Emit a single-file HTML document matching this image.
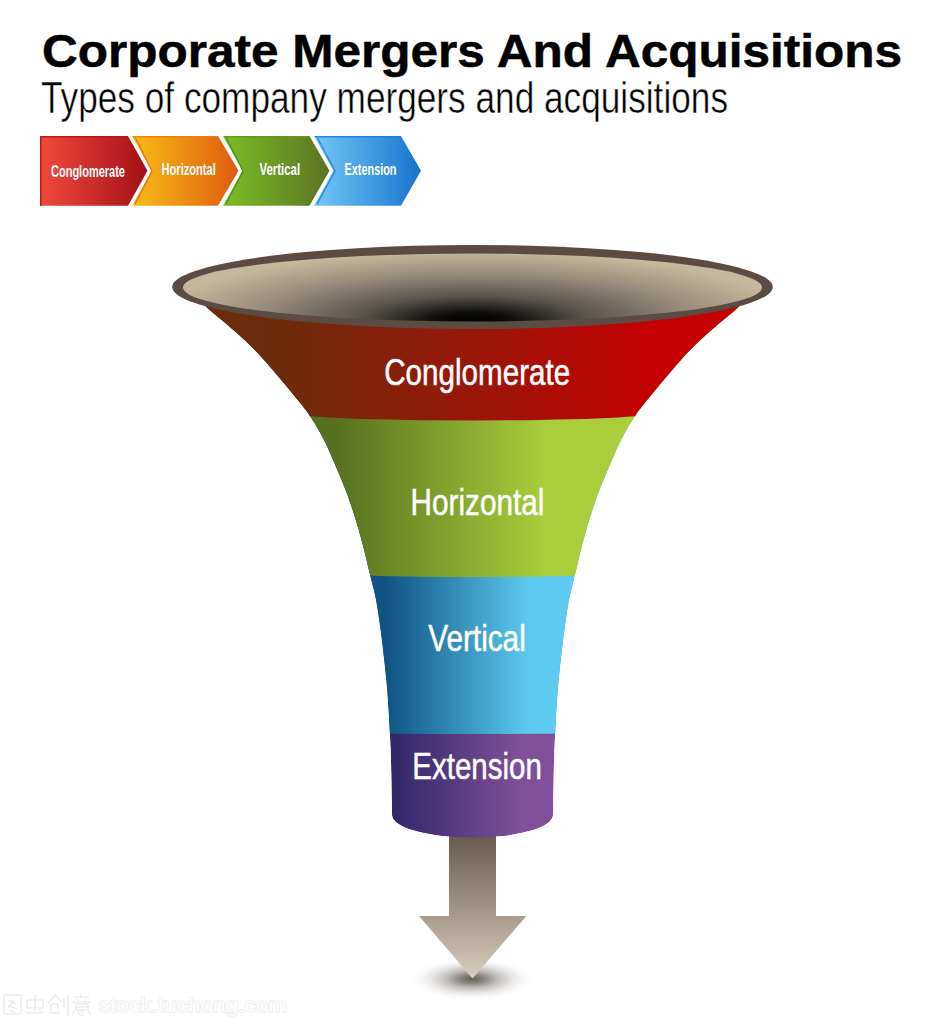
<!DOCTYPE html>
<html><head><meta charset="utf-8"><style>
html,body{margin:0;padding:0;background:#fff;width:945px;height:1023px;overflow:hidden}
svg{display:block}
text{font-family:"Liberation Sans",sans-serif}
</style></head><body>
<svg width="945" height="1023" viewBox="0 0 945 1023">
<defs>
<linearGradient id="cr" x1="0" y1="0" x2="1" y2="0"><stop offset="0" stop-color="#f24a3c"/><stop offset="1" stop-color="#a30f17"/></linearGradient>
<linearGradient id="co" x1="0" y1="0" x2="1" y2="0"><stop offset="0" stop-color="#f9bd18"/><stop offset="1" stop-color="#df5a0e"/></linearGradient>
<linearGradient id="cg" x1="0" y1="0" x2="1" y2="0"><stop offset="0" stop-color="#7cbd26"/><stop offset="1" stop-color="#5b7424"/></linearGradient>
<linearGradient id="cb" x1="0" y1="0" x2="1" y2="0"><stop offset="0" stop-color="#74c8f6"/><stop offset="1" stop-color="#1673cc"/></linearGradient>
<linearGradient id="fr" gradientUnits="userSpaceOnUse" x1="270" y1="0" x2="650" y2="0"><stop offset="0" stop-color="#6a2c0a"/><stop offset="0.5" stop-color="#961808"/><stop offset="1" stop-color="#c40003"/></linearGradient>
<linearGradient id="fg" gradientUnits="userSpaceOnUse" x1="335" y1="0" x2="545" y2="0"><stop offset="0" stop-color="#56701f"/><stop offset="1" stop-color="#a9cd3b"/></linearGradient>
<linearGradient id="fb" gradientUnits="userSpaceOnUse" x1="385" y1="0" x2="530" y2="0"><stop offset="0" stop-color="#0f5283"/><stop offset="1" stop-color="#5ccbef"/></linearGradient>
<linearGradient id="fp" gradientUnits="userSpaceOnUse" x1="395" y1="0" x2="522" y2="0"><stop offset="0" stop-color="#33286a"/><stop offset="1" stop-color="#80509a"/></linearGradient>
<radialGradient id="inner" gradientUnits="userSpaceOnUse" cx="473" cy="321" r="100" gradientTransform="translate(473 321) scale(3.2 0.7) translate(-473 -321)"><stop offset="0" stop-color="#000"/><stop offset="0.12" stop-color="#0e0d0c"/><stop offset="0.36" stop-color="#5a544c"/><stop offset="0.68" stop-color="#978c7a"/><stop offset="1" stop-color="#c6b89c"/></radialGradient>
<linearGradient id="arr" gradientUnits="userSpaceOnUse" x1="0" y1="837" x2="0" y2="978"><stop offset="0" stop-color="#6a5b4e"/><stop offset="1" stop-color="#d8cebd"/></linearGradient>
<radialGradient id="shadow"><stop offset="0" stop-color="#2a2018" stop-opacity="0.72"/><stop offset="0.2" stop-color="#2a2018" stop-opacity="0.55"/><stop offset="0.42" stop-color="#2a2018" stop-opacity="0.3"/><stop offset="0.65" stop-color="#2a2018" stop-opacity="0.12"/><stop offset="0.85" stop-color="#2a2018" stop-opacity="0.03"/><stop offset="1" stop-color="#2a2018" stop-opacity="0"/></radialGradient>
<clipPath id="sil"><path d="M195.5,295.0 L198.2,298.0 L200.8,301.0 L203.6,304.0 L206.5,307.0 L209.7,310.0 L213.2,313.0 L216.8,316.0 L220.5,319.0 L224.2,322.0 L227.7,325.0 L231.1,328.0 L234.6,331.0 L238.0,334.0 L241.3,337.0 L244.6,340.0 L247.7,343.0 L250.8,346.0 L253.8,349.0 L256.7,352.0 L259.6,355.0 L262.3,358.0 L265.0,361.0 L267.6,364.0 L270.2,367.0 L272.8,370.0 L275.3,373.0 L277.9,376.0 L280.4,379.0 L282.9,382.0 L285.5,385.0 L288.0,388.0 L290.4,391.0 L292.9,394.0 L295.3,397.0 L297.8,400.0 L300.3,403.0 L302.7,406.0 L305.0,409.0 L307.3,412.0 L309.3,415.0 L311.3,418.0 L313.2,421.0 L315.1,424.0 L316.9,427.0 L318.6,430.0 L320.3,433.0 L321.9,436.0 L323.5,439.0 L325.0,442.0 L326.5,445.0 L327.9,448.0 L329.2,451.0 L330.5,454.0 L331.8,457.0 L333.1,460.0 L334.4,463.0 L335.7,466.0 L336.9,469.0 L338.2,472.0 L339.5,475.0 L340.7,478.0 L342.0,481.0 L343.2,484.0 L344.4,487.0 L345.6,490.0 L346.8,493.0 L347.9,496.0 L348.9,499.0 L350.0,502.0 L351.0,505.0 L352.0,508.0 L353.0,511.0 L353.9,514.0 L354.9,517.0 L355.8,520.0 L356.7,523.0 L357.6,526.0 L358.5,529.0 L359.3,532.0 L360.2,535.0 L361.0,538.0 L361.8,541.0 L362.6,544.0 L363.4,547.0 L364.1,550.0 L364.9,553.0 L365.6,556.0 L366.3,559.0 L367.0,562.0 L367.7,565.0 L368.4,568.0 L369.2,571.0 L369.9,574.0 L370.6,577.0 L371.3,580.0 L372.1,583.0 L372.8,586.0 L373.6,589.0 L374.3,592.0 L375.0,595.0 L375.6,598.0 L376.2,601.0 L376.7,604.0 L377.2,607.0 L377.7,610.0 L378.2,613.0 L378.6,616.0 L379.1,619.0 L379.5,622.0 L379.9,625.0 L380.3,628.0 L380.7,631.0 L381.1,634.0 L381.5,637.0 L381.9,640.0 L382.2,643.0 L382.6,646.0 L382.9,649.0 L383.3,652.0 L383.6,655.0 L384.0,658.0 L384.3,661.0 L384.7,664.0 L385.0,667.0 L385.3,670.0 L385.6,673.0 L385.9,676.0 L386.2,679.0 L386.5,682.0 L386.8,685.0 L387.0,688.0 L387.3,691.0 L387.5,694.0 L387.7,697.0 L387.9,700.0 L388.1,703.0 L388.3,706.0 L388.5,709.0 L388.7,712.0 L388.9,715.0 L389.0,718.0 L389.2,721.0 L389.4,724.0 L389.5,727.0 L389.7,730.0 L389.8,733.0 L389.9,736.0 L390.1,739.0 L390.2,742.0 L390.3,745.0 L390.5,748.0 L390.6,751.0 L390.7,754.0 L390.8,757.0 L390.9,760.0 L391.0,763.0 L391.1,766.0 L391.1,769.0 L391.2,772.0 L391.3,775.0 L391.3,778.0 L391.4,781.0 L391.4,784.0 L391.5,787.0 L391.5,790.0 L391.6,793.0 L391.6,796.0 L391.7,799.0 L391.8,802.0 L391.8,805.0 L391.9,808.0 L391.9,811.0 L392.0,815.0 A80.5,22.8 0 0 0 553.0,815 L553.1,811.0 L553.1,808.0 L553.2,805.0 L553.2,802.0 L553.3,799.0 L553.4,796.0 L553.4,793.0 L553.5,790.0 L553.5,787.0 L553.6,784.0 L553.6,781.0 L553.7,778.0 L553.7,775.0 L553.8,772.0 L553.9,769.0 L553.9,766.0 L554.0,763.0 L554.1,760.0 L554.2,757.0 L554.3,754.0 L554.4,751.0 L554.5,748.0 L554.7,745.0 L554.8,742.0 L554.9,739.0 L555.1,736.0 L555.2,733.0 L555.3,730.0 L555.5,727.0 L555.6,724.0 L555.8,721.0 L556.0,718.0 L556.1,715.0 L556.3,712.0 L556.5,709.0 L556.7,706.0 L556.9,703.0 L557.1,700.0 L557.3,697.0 L557.5,694.0 L557.7,691.0 L558.0,688.0 L558.2,685.0 L558.5,682.0 L558.8,679.0 L559.1,676.0 L559.4,673.0 L559.7,670.0 L560.0,667.0 L560.3,664.0 L560.7,661.0 L561.0,658.0 L561.4,655.0 L561.7,652.0 L562.1,649.0 L562.4,646.0 L562.8,643.0 L563.1,640.0 L563.5,637.0 L563.9,634.0 L564.3,631.0 L564.7,628.0 L565.1,625.0 L565.5,622.0 L565.9,619.0 L566.4,616.0 L566.8,613.0 L567.3,610.0 L567.8,607.0 L568.3,604.0 L568.8,601.0 L569.4,598.0 L570.0,595.0 L570.7,592.0 L571.4,589.0 L572.2,586.0 L572.9,583.0 L573.7,580.0 L574.4,577.0 L575.1,574.0 L575.8,571.0 L576.6,568.0 L577.3,565.0 L578.0,562.0 L578.7,559.0 L579.4,556.0 L580.1,553.0 L580.9,550.0 L581.6,547.0 L582.4,544.0 L583.2,541.0 L584.0,538.0 L584.8,535.0 L585.7,532.0 L586.5,529.0 L587.4,526.0 L588.3,523.0 L589.2,520.0 L590.1,517.0 L591.1,514.0 L592.0,511.0 L593.0,508.0 L594.0,505.0 L595.0,502.0 L596.1,499.0 L597.1,496.0 L598.2,493.0 L599.4,490.0 L600.6,487.0 L601.8,484.0 L603.0,481.0 L604.3,478.0 L605.5,475.0 L606.8,472.0 L608.1,469.0 L609.3,466.0 L610.6,463.0 L611.9,460.0 L613.2,457.0 L614.5,454.0 L615.8,451.0 L617.1,448.0 L618.5,445.0 L620.0,442.0 L621.5,439.0 L623.1,436.0 L624.7,433.0 L626.4,430.0 L628.1,427.0 L629.9,424.0 L631.8,421.0 L633.7,418.0 L635.7,415.0 L637.7,412.0 L640.0,409.0 L642.3,406.0 L644.7,403.0 L647.2,400.0 L649.7,397.0 L652.1,394.0 L654.6,391.0 L657.0,388.0 L659.5,385.0 L662.1,382.0 L664.6,379.0 L667.1,376.0 L669.7,373.0 L672.2,370.0 L674.8,367.0 L677.4,364.0 L680.0,361.0 L682.7,358.0 L685.4,355.0 L688.3,352.0 L691.2,349.0 L694.2,346.0 L697.3,343.0 L700.4,340.0 L703.7,337.0 L707.0,334.0 L710.4,331.0 L713.9,328.0 L717.3,325.0 L720.8,322.0 L724.5,319.0 L728.2,316.0 L731.8,313.0 L735.3,310.0 L738.5,307.0 L741.4,304.0 L744.2,301.0 L746.8,298.0 L749.5,295.0 Z"/></clipPath>
</defs>
<text x="42" y="67" font-size="46" font-weight="bold" textLength="860" lengthAdjust="spacingAndGlyphs" fill="#000" stroke="#000" stroke-width="0.5">Corporate Mergers And Acquisitions</text>
<text x="41" y="112.5" font-size="44.5" textLength="687" lengthAdjust="spacingAndGlyphs" fill="#000" stroke="#fff" stroke-width="0.5">Types of company mergers and acquisitions</text>
<path d="M40,136 L128,136 L147.5,170.85 L128,205.7 L40,205.7 Z" fill="url(#cr)"/>
<path d="M132,136 L218,136 L238.5,170.85 L218,205.7 L132,205.7 L151.5,170.85 Z" fill="url(#co)"/>
<path d="M223,136 L309.5,136 L329.5,170.85 L309.5,205.7 L223,205.7 L242.5,170.85 Z" fill="url(#cg)"/>
<path d="M314,136 L401,136 L421,170.85 L401,205.7 L314,205.7 L333.5,170.85 Z" fill="url(#cb)"/>
<g fill="none" stroke-width="1.6" stroke-opacity="0.9">
<path d="M40.8,205.7 V136.8 H128" stroke="#b8141a"/>
<path d="M133,136.8 H218" stroke="#e8800c"/>
<path d="M135.5,138 L152,171 L135,204" stroke="#e06a0c" stroke-width="1.3"/>
<path d="M224,136.8 H309.5" stroke="#5e9a18"/>
<path d="M226.5,138 L243,171 L226,204" stroke="#4e8a14" stroke-width="1.3"/>
<path d="M315,136.8 H401" stroke="#1f7ed4"/>
<path d="M317.5,138 L335,171 L317,204" stroke="#1f84dc" stroke-width="1.5"/>
</g>
<g fill="#fff" font-size="16" font-weight="bold">
<text x="51" y="177" textLength="74" lengthAdjust="spacingAndGlyphs">Conglomerate</text>
<text x="161.5" y="174.6" textLength="54.3" lengthAdjust="spacingAndGlyphs">Horizontal</text>
<text x="259.5" y="174.6" textLength="40.6" lengthAdjust="spacingAndGlyphs">Vertical</text>
<text x="344.5" y="174.6" textLength="52" lengthAdjust="spacingAndGlyphs">Extension</text>
</g>
<ellipse cx="472" cy="979" rx="60" ry="21" fill="url(#shadow)"/>
<rect x="449" y="825" width="47" height="92" fill="url(#arr)"/>
<path d="M419,916 L526.4,916 L472.5,978.5 Z" fill="url(#arr)"/>
<g clip-path="url(#sil)">
<path d="M195.5,295.0 L198.2,298.0 L200.8,301.0 L203.6,304.0 L206.5,307.0 L209.7,310.0 L213.2,313.0 L216.8,316.0 L220.5,319.0 L224.2,322.0 L227.7,325.0 L231.1,328.0 L234.6,331.0 L238.0,334.0 L241.3,337.0 L244.6,340.0 L247.7,343.0 L250.8,346.0 L253.8,349.0 L256.7,352.0 L259.6,355.0 L262.3,358.0 L265.0,361.0 L267.6,364.0 L270.2,367.0 L272.8,370.0 L275.3,373.0 L277.9,376.0 L280.4,379.0 L282.9,382.0 L285.5,385.0 L288.0,388.0 L290.4,391.0 L292.9,394.0 L295.3,397.0 L297.8,400.0 L300.3,403.0 L302.7,406.0 L305.0,409.0 L307.3,412.0 L309.3,415.0 L311.3,418.0 L313.2,421.0 L315.1,424.0 L316.9,427.0 L318.6,430.0 L320.3,433.0 L321.9,436.0 L323.5,439.0 L325.0,442.0 L326.5,445.0 L327.9,448.0 L329.2,451.0 L330.5,454.0 L331.8,457.0 L333.1,460.0 L334.4,463.0 L335.7,466.0 L336.9,469.0 L338.2,472.0 L339.5,475.0 L340.7,478.0 L342.0,481.0 L343.2,484.0 L344.4,487.0 L345.6,490.0 L346.8,493.0 L347.9,496.0 L348.9,499.0 L350.0,502.0 L351.0,505.0 L352.0,508.0 L353.0,511.0 L353.9,514.0 L354.9,517.0 L355.8,520.0 L356.7,523.0 L357.6,526.0 L358.5,529.0 L359.3,532.0 L360.2,535.0 L361.0,538.0 L361.8,541.0 L362.6,544.0 L363.4,547.0 L364.1,550.0 L364.9,553.0 L365.6,556.0 L366.3,559.0 L367.0,562.0 L367.7,565.0 L368.4,568.0 L369.2,571.0 L369.9,574.0 L370.6,577.0 L371.3,580.0 L372.1,583.0 L372.8,586.0 L373.6,589.0 L374.3,592.0 L375.0,595.0 L375.6,598.0 L376.2,601.0 L376.7,604.0 L377.2,607.0 L377.7,610.0 L378.2,613.0 L378.6,616.0 L379.1,619.0 L379.5,622.0 L379.9,625.0 L380.3,628.0 L380.7,631.0 L381.1,634.0 L381.5,637.0 L381.9,640.0 L382.2,643.0 L382.6,646.0 L382.9,649.0 L383.3,652.0 L383.6,655.0 L384.0,658.0 L384.3,661.0 L384.7,664.0 L385.0,667.0 L385.3,670.0 L385.6,673.0 L385.9,676.0 L386.2,679.0 L386.5,682.0 L386.8,685.0 L387.0,688.0 L387.3,691.0 L387.5,694.0 L387.7,697.0 L387.9,700.0 L388.1,703.0 L388.3,706.0 L388.5,709.0 L388.7,712.0 L388.9,715.0 L389.0,718.0 L389.2,721.0 L389.4,724.0 L389.5,727.0 L389.7,730.0 L389.8,733.0 L389.9,736.0 L390.1,739.0 L390.2,742.0 L390.3,745.0 L390.5,748.0 L390.6,751.0 L390.7,754.0 L390.8,757.0 L390.9,760.0 L391.0,763.0 L391.1,766.0 L391.1,769.0 L391.2,772.0 L391.3,775.0 L391.3,778.0 L391.4,781.0 L391.4,784.0 L391.5,787.0 L391.5,790.0 L391.6,793.0 L391.6,796.0 L391.7,799.0 L391.8,802.0 L391.8,805.0 L391.9,808.0 L391.9,811.0 L392.0,815.0 A80.5,22.8 0 0 0 553.0,815 L553.1,811.0 L553.1,808.0 L553.2,805.0 L553.2,802.0 L553.3,799.0 L553.4,796.0 L553.4,793.0 L553.5,790.0 L553.5,787.0 L553.6,784.0 L553.6,781.0 L553.7,778.0 L553.7,775.0 L553.8,772.0 L553.9,769.0 L553.9,766.0 L554.0,763.0 L554.1,760.0 L554.2,757.0 L554.3,754.0 L554.4,751.0 L554.5,748.0 L554.7,745.0 L554.8,742.0 L554.9,739.0 L555.1,736.0 L555.2,733.0 L555.3,730.0 L555.5,727.0 L555.6,724.0 L555.8,721.0 L556.0,718.0 L556.1,715.0 L556.3,712.0 L556.5,709.0 L556.7,706.0 L556.9,703.0 L557.1,700.0 L557.3,697.0 L557.5,694.0 L557.7,691.0 L558.0,688.0 L558.2,685.0 L558.5,682.0 L558.8,679.0 L559.1,676.0 L559.4,673.0 L559.7,670.0 L560.0,667.0 L560.3,664.0 L560.7,661.0 L561.0,658.0 L561.4,655.0 L561.7,652.0 L562.1,649.0 L562.4,646.0 L562.8,643.0 L563.1,640.0 L563.5,637.0 L563.9,634.0 L564.3,631.0 L564.7,628.0 L565.1,625.0 L565.5,622.0 L565.9,619.0 L566.4,616.0 L566.8,613.0 L567.3,610.0 L567.8,607.0 L568.3,604.0 L568.8,601.0 L569.4,598.0 L570.0,595.0 L570.7,592.0 L571.4,589.0 L572.2,586.0 L572.9,583.0 L573.7,580.0 L574.4,577.0 L575.1,574.0 L575.8,571.0 L576.6,568.0 L577.3,565.0 L578.0,562.0 L578.7,559.0 L579.4,556.0 L580.1,553.0 L580.9,550.0 L581.6,547.0 L582.4,544.0 L583.2,541.0 L584.0,538.0 L584.8,535.0 L585.7,532.0 L586.5,529.0 L587.4,526.0 L588.3,523.0 L589.2,520.0 L590.1,517.0 L591.1,514.0 L592.0,511.0 L593.0,508.0 L594.0,505.0 L595.0,502.0 L596.1,499.0 L597.1,496.0 L598.2,493.0 L599.4,490.0 L600.6,487.0 L601.8,484.0 L603.0,481.0 L604.3,478.0 L605.5,475.0 L606.8,472.0 L608.1,469.0 L609.3,466.0 L610.6,463.0 L611.9,460.0 L613.2,457.0 L614.5,454.0 L615.8,451.0 L617.1,448.0 L618.5,445.0 L620.0,442.0 L621.5,439.0 L623.1,436.0 L624.7,433.0 L626.4,430.0 L628.1,427.0 L629.9,424.0 L631.8,421.0 L633.7,418.0 L635.7,415.0 L637.7,412.0 L640.0,409.0 L642.3,406.0 L644.7,403.0 L647.2,400.0 L649.7,397.0 L652.1,394.0 L654.6,391.0 L657.0,388.0 L659.5,385.0 L662.1,382.0 L664.6,379.0 L667.1,376.0 L669.7,373.0 L672.2,370.0 L674.8,367.0 L677.4,364.0 L680.0,361.0 L682.7,358.0 L685.4,355.0 L688.3,352.0 L691.2,349.0 L694.2,346.0 L697.3,343.0 L700.4,340.0 L703.7,337.0 L707.0,334.0 L710.4,331.0 L713.9,328.0 L717.3,325.0 L720.8,322.0 L724.5,319.0 L728.2,316.0 L731.8,313.0 L735.3,310.0 L738.5,307.0 L741.4,304.0 L744.2,301.0 L746.8,298.0 L749.5,295.0 Z" fill="url(#fp)"/>
<path d="M0,0 H945 V733 H562.5 A90,1 0 0 1 382.5,733 H0 Z" fill="url(#fb)"/>
<path d="M0,0 H945 V574.5 H582.5 A110,2.5 0 0 1 362.5,574.5 H0 Z" fill="url(#fg)"/>
<path d="M0,0 H945 V413.5 H647.5 A175,7 0 0 1 297.5,413.5 H0 Z" fill="url(#fr)"/>
</g>
<ellipse cx="472.5" cy="287" rx="300.3" ry="42" fill="#5b4b43"/>
<ellipse cx="472.5" cy="287.5" rx="289.5" ry="34" fill="url(#inner)"/>
<g fill="#fff" font-size="36" stroke="#fff" stroke-width="0.5">
<text x="384.2" y="384.6" textLength="186" lengthAdjust="spacingAndGlyphs">Conglomerate</text>
<text x="410.6" y="514.5" textLength="133.8" lengthAdjust="spacingAndGlyphs">Horizontal</text>
<text x="428.2" y="650.5" textLength="97.6" lengthAdjust="spacingAndGlyphs">Vertical</text>
<text x="412.3" y="779.3" textLength="129.6" lengthAdjust="spacingAndGlyphs">Extension</text>
</g>
<text x="99" y="1012" font-size="20" fill="#fff" stroke="#ededed" stroke-width="1.6" paint-order="stroke" textLength="188" lengthAdjust="spacingAndGlyphs">stock.tuchong.com</text>
<g fill="none" stroke="#ededed" stroke-width="1.6">
<path d="M4,995 H21 V1014 H4 Z M8,1000 L16,1004 M15,999 L8,1008 M10,1006 L17,1009 M9,1010 L15,1012"/>
<path d="M27,1000 H43 V1008 H27 Z M35,995 V1011 M26,1013 H44 M39,1010 L42,1012"/>
<path d="M55,995 L48,1003 M55,995 L62,1002 M51,1004 H58 V1009 M51,1004 V1013 H60 M64,998 V1008 M68,995 V1015 L66,1014"/>
<path d="M81,994 V996 M74,997 H89 M77,999 L78,1001 M86,999 L85,1001 M73,1002 H91 M76,1004 H88 V1010 H76 Z M76,1007 H88 M74,1011 L73,1015 M78,1012 Q80,1016 84,1015 M82,1011 L83,1013 M88,1011 L91,1015"/>
</g>
</svg>
</body></html>
